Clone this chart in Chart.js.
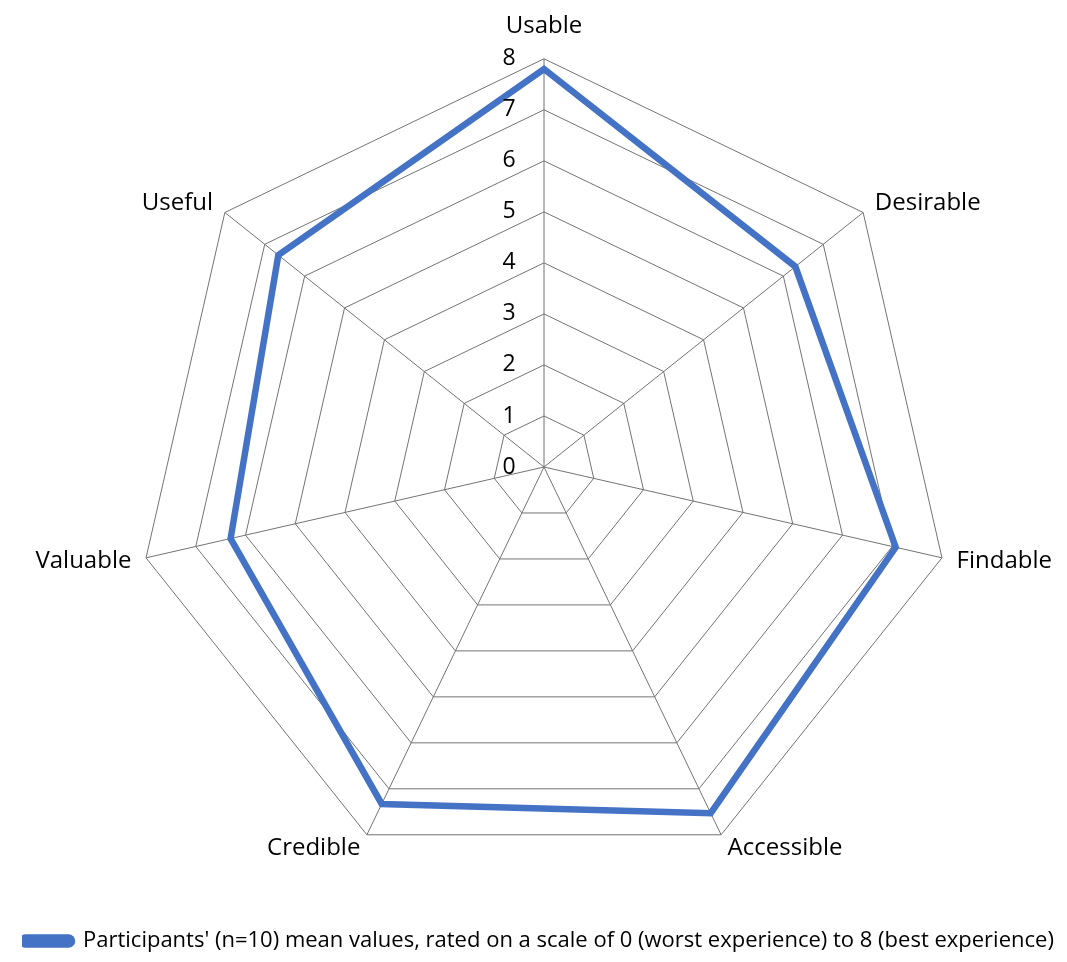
<!DOCTYPE html>
<html>
<head>
<meta charset="utf-8">
<script src="https://cdn.jsdelivr.net/npm/chart.js@4.4.1/dist/chart.umd.min.js"></script>
<style>
  html, body { margin: 0; padding: 0; background: #fff; }
  #wrap { width: 1067px; height: 962px; }
</style>
</head>
<body>
<div id="wrap"><canvas id="radar"></canvas></div>
<script>
const categories = ['Usable', 'Desirable', 'Findable', 'Accessible', 'Credible', 'Valuable', 'Useful'];
const meanValues = [7.8, 6.3, 7.07, 7.53, 7.33, 6.3, 6.66];
const tickLabels = ['0', '1', '2', '3', '4', '5', '6', '7', '8'];
const seriesLabel = "Participants' (n=10) mean values, rated on a scale of 0 (worst experience) to 8 (best experience)";

const FONT = '"Open Sans", Lato, sans-serif';
const LABEL_SIZE = 24;
const LABEL_GAP = 15;

// tick numbers sit to the left of the vertical axis, not on it
const tickLabelPlugin = {
  id: 'leftTicks',
  afterDraw(chart) {
    const scale = chart.scales.r;
    const ctx = chart.ctx;
    ctx.save();
    ctx.font = `23px ${FONT}`;
    ctx.fillStyle = '#000';
    ctx.textAlign = 'center';
    ctx.textBaseline = 'middle';
    tickLabels.forEach((t) => {
      const p = scale.getPointPositionForValue(0, Number(t));
      ctx.fillText(t, p.x - 35, p.y);
    });
    ctx.restore();
  },
};

// center the category labels on their spoke like the original (top one sits above)
const labelPlacePlugin = {
  id: 'labelPlace',
  afterUpdate(chart) {
    const scale = chart.scales.r;
    const h = LABEL_SIZE * 1.2;
    (scale._pointLabelItems || []).forEach((item, i) => {
      const a = scale.getIndexAngle(i) - Math.PI / 2;
      const p = scale.getPointPosition(i, scale.drawingArea + LABEL_GAP);
      item.x = p.x;
      let cy = p.y;
      if (Math.abs(Math.cos(a)) < 0.1) cy += Math.sin(a) * (h / 2 + 3);
      item.y = cy - h / 2;
    });
  },
};

new Chart(document.getElementById('radar'), {
  type: 'radar',
  data: {
    labels: categories,
    datasets: [{
      label: seriesLabel,
      data: meanValues,
      borderColor: '#4472c4',
      backgroundColor: '#4472c4',
      borderWidth: 6.5,
      borderJoinStyle: 'miter',
      fill: false,
      pointRadius: 0,
      pointHoverRadius: 0,
    }],
  },
  options: {
    responsive: true,
    maintainAspectRatio: false,
    animation: false,
    layout: { padding: { top: 0, bottom: 0, left: 22, right: 0 } },
    plugins: {
      legend: {
        position: 'bottom',
        align: 'start',
        title: { display: true, text: ' ', padding: 0, font: { size: 28.3 } },
        labels: {
          color: '#000',
          font: { family: FONT, size: 22 },
          boxWidth: 50,
          boxHeight: 7,
          useBorderRadius: true,
          borderRadius: 3.5,
          padding: 0,
        },
      },
      tooltip: { enabled: false },
    },
    scales: {
      r: {
        min: 0,
        max: 8,
        ticks: { stepSize: 1, display: false },
        grid: { color: '#737373', lineWidth: 1 },
        angleLines: { color: '#737373', lineWidth: 1 },
        pointLabels: {
          color: '#000',
          font: { family: FONT, size: LABEL_SIZE },
          padding: 11,
        },
      },
    },
  },
  plugins: [tickLabelPlugin, labelPlacePlugin],
});
</script>
</body>
</html>
